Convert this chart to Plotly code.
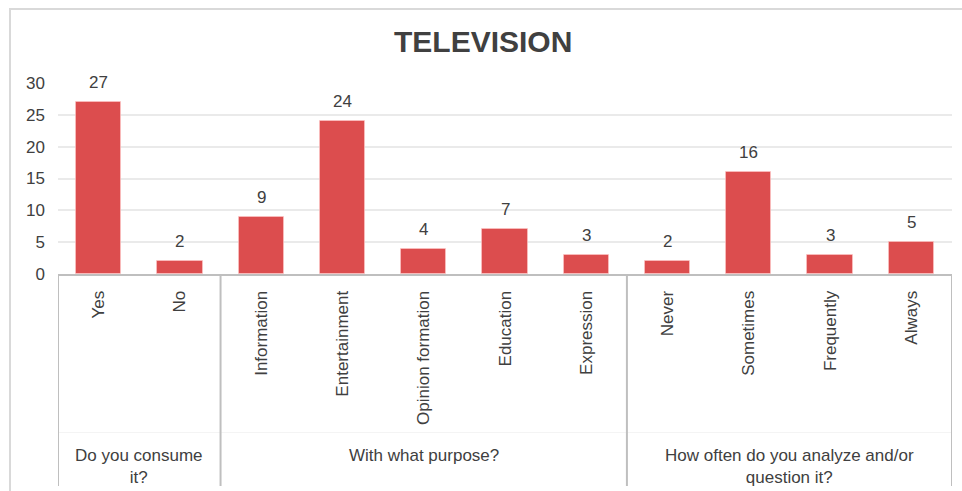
import plotly.graph_objects as go

categories = ["Yes", "No", "Information", "Entertainment", "Opinion formation",
              "Education", "Expression", "Never", "Sometimes", "Frequently", "Always"]
values = [27, 2, 9, 24, 4, 7, 3, 2, 16, 3, 5]
groups = ["Do you consume<br>it?", "With what purpose?", "How often do you analyze and/or<br>question it?"]
group_sizes = [2, 5, 4]
y_ticks = [0, 5, 10, 15, 20, 25, 30]

FONT = "Liberation Sans, Arial, sans-serif"
TXT = "#404040"
BAR = "#DC4D4E"
SEP = "#BFBFBF"

x = list(range(len(categories)))

fig = go.Figure()
fig.add_trace(go.Bar(
    x=x, y=values, width=0.557,
    marker=dict(color=BAR, line=dict(color="rgba(255,200,200,0.6)", width=1)),
    hoverinfo="skip",
))

annotations = []
# data labels
for xi, v in zip(x, values):
    annotations.append(dict(x=xi, y=v, xref="x", yref="y", text=str(v),
                            showarrow=False, yanchor="bottom", yshift=8,
                            font=dict(family=FONT, size=17, color=TXT)))

shapes = []
# group separators and labels
start = 0
bounds = [-0.5]
for g, n in zip(groups, group_sizes):
    end = start + n
    bounds.append(end - 0.5)
    annotations.append(dict(x=(start + end - 1) / 2, y=-0.89, xref="x", yref="paper",
                            text=g, showarrow=False, yanchor="top", align="center",
                            font=dict(family=FONT, size=17, color=TXT)))
    start = end
for b in bounds:
    shapes.append(dict(type="line", xref="x", yref="paper", x0=b, x1=b, y0=0, y1=-1.11,
                       line=dict(color=SEP, width=2)))
# faint horizontal line across bottom band
shapes.append(dict(type="line", xref="x", yref="paper", x0=-0.5, x1=10.5, y0=-0.83, y1=-0.83,
                   line=dict(color="#F4F4F4", width=1), layer="below"))
# outer chart border
shapes.append(dict(type="rect", xref="paper", yref="paper",
                   x0=(10 - 58) / 894, x1=(975 - 58) / 894,
                   y0=(274 - 500) / 191, y1=(274 - 9) / 191,
                   line=dict(color="#D9D9D9", width=2)))

annotations.append(dict(text="<b>TELEVISION</b>", x=(483 - 58) / 894, y=(274 - 41) / 191,
                        xref="paper", yref="paper", showarrow=False,
                        xanchor="center", yanchor="middle",
                        font=dict(family=FONT, size=30, color=TXT)))

fig.update_layout(
    width=962, height=491,
    margin=dict(l=58, r=10, t=83, b=217),
    paper_bgcolor="white", plot_bgcolor="white",
    showlegend=False,
    bargap=0,
    annotations=annotations,
    shapes=shapes,
    xaxis=dict(range=[-0.5, 10.5], tickvals=x, ticktext=categories, tickangle=-90,
               showgrid=False, zeroline=False, showline=True, linecolor=SEP, linewidth=2,
               ticks="", ticklabelstandoff=8,
               tickfont=dict(family=FONT, size=17, color=TXT), fixedrange=True),
    yaxis=dict(range=[0, 30], tickvals=y_ticks, showgrid=True, gridcolor="#EAEAEA",
               gridwidth=2, zeroline=False, showline=False, ticks="",
               ticklabelstandoff=12,
               tickfont=dict(family=FONT, size=17, color=TXT), fixedrange=True),
)

fig.write_html("out.html")
